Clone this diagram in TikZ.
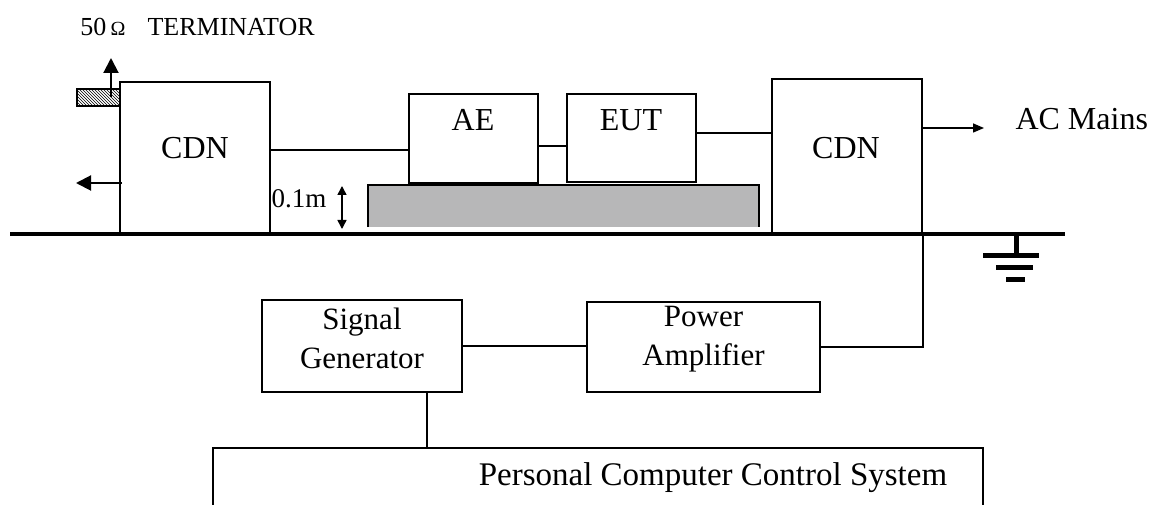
\documentclass[tikz,border=0pt]{standalone}
\usepackage{fontspec}
\setmainfont{Liberation Serif}
\usetikzlibrary{arrows.meta,patterns}
\definecolor{benchgray}{RGB}{183,183,184}
\begin{document}
\begin{tikzpicture}[x=1pt, y=-1pt,
  box/.style = {draw, line width=2pt, inner sep=0pt},
  wire/.style = {line width=1.5pt},
  arr/.style = {line width=2pt, -{Triangle[length=15pt,width=15pt]}},
  thinarr/.style = {line width=1.5pt, -{Triangle[length=11pt,width=9pt]}},
  dbl/.style = {line width=1.5pt, {Triangle[length=9pt,width=9pt]}-{Triangle[length=9pt,width=9pt]}},
  big/.style = {font=\fontsize{32}{36}\selectfont},
  mid/.style = {font=\fontsize{31}{39}\selectfont, align=center}]
  \useasboundingbox (0,0) rectangle (1152,505);
  \clip (0,0) rectangle (1152,505);

  % test bench
  \node[box] (cdnL) [minimum width=150pt, minimum height=152pt] at (195,158) {};
  \node[big] (cdnLtxt) at (195,148) {CDN};
  \node[box, pattern=north west lines] (term) [minimum width=43pt, minimum height=17pt] at (98.5,97.5) {};
  \node[box] (ae) [minimum width=129pt, minimum height=89pt] at (473.5,138.5) {};
  \node[big] (aetxt) at (473,120) {AE};
  \node[box] (eut) [minimum width=129pt, minimum height=88pt] at (631.5,138) {};
  \node[big] (euttxt) at (631,120) {EUT};
  \node[box] (cdnR) [minimum width=150pt, minimum height=155pt] at (847,156.5) {};
  \node[big] (cdnRtxt) at (846,148) {CDN};
  \node[big, anchor=west] (mains) at (1012,119) {AC Mains};
  \node[fill=benchgray, inner sep=0pt] (bench) [minimum width=391pt, minimum height=42pt] at (563.5,206) {};
  \draw[line width=1.5pt] (bench.south west) |- (bench.north east) -- (bench.south east);
  \node[font=\fontsize{27}{30}\selectfont] (height) at (299,199) {0.1m};
  \node[font=\fontsize{26}{30}\selectfont] (termtxt) at (197.5,27) {50\,{\fontsize{20}{20}\selectfont Ω}\hspace{22pt}TERMINATOR};

  % generator chain
  \node[box] (sg) [minimum width=200pt, minimum height=92pt] at (362,346) {};
  \node[mid] (sgtxt) at (362,338) {Signal\\Generator};
  \node[box] (pa) [minimum width=233pt, minimum height=90pt] at (703.5,347) {};
  \node[mid] (patxt) at (703.5,339) {Power\\Amplifier};
  \node[box] (pc) [minimum width=770pt, minimum height=120pt] at (598,508) {};
  \node[font=\fontsize{33}{36}\selectfont] (pctxt) at (713,478) {Personal Computer Control System};

  % ground plane
  \draw[line width=4pt] (10,234) -- (1065,234);
  \draw[line width=5pt] (1016,234) -- (1016,255);
  \draw[line width=5pt] (983,256) -- (1039,256);
  \draw[line width=5pt] (996,268) -- (1033,268);
  \draw[line width=5pt] (1006,280) -- (1025,280);

  \coordinate (acEnd) at (984,128);
  \coordinate (termUp) at (111,58);
  \coordinate (leftOut) at (76,183);
  \coordinate (hTop) at (342,186);
  \coordinate (hBot) at (342,229);

  \draw[wire] (cdnL.east |- 0,150) -- (ae.west |- 0,150);
  \draw[wire] (ae.east |- 0,146) -- (eut.west |- 0,146);
  \draw[wire] (eut.east |- 0,133) -- (cdnR.west |- 0,133);
  \draw[thinarr] (cdnR.east |- acEnd) -- (acEnd);
  \draw[arr] (termUp |- term.center) -- (termUp);
  \draw[arr] ([xshift=3pt]cdnL.west |- leftOut) -- (leftOut);
  \draw[dbl] (hTop) -- (hBot);
  \draw[wire] (cdnR.south east) |- (pa.east);
  \draw[wire] (sg.east) -- (sg.east -| pa.west);
  \draw[wire] (427,0 |- sg.south) -- (427,0 |- pc.north);
\end{tikzpicture}
\end{document}
